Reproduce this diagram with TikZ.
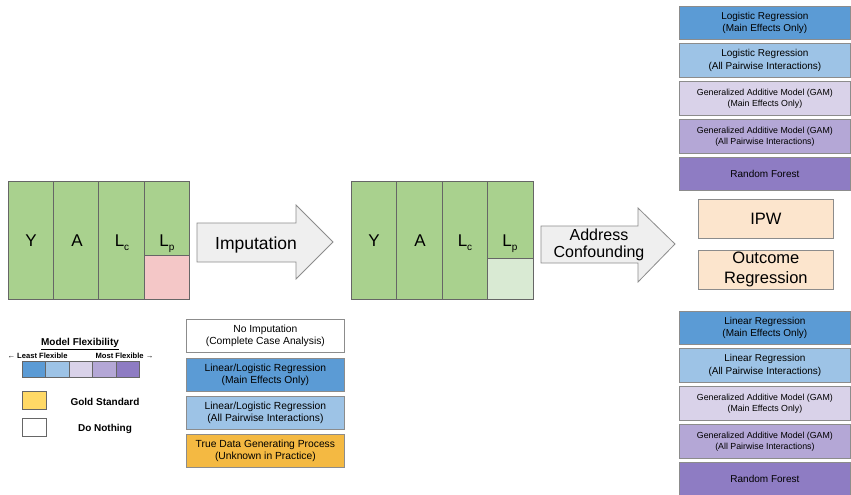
\documentclass[tikz,border=0pt]{standalone}
\usepackage{fontspec}
\setmainfont{Liberation Sans}
\definecolor{tgreen}{HTML}{A9D18E}
\definecolor{tpink}{HTML}{F4C7C7}
\definecolor{tlgreen}{HTML}{D9EAD3}
\definecolor{tline}{HTML}{666666}
\definecolor{bline}{HTML}{8C8C8C}
\definecolor{arrfill}{HTML}{EFEFEF}
\definecolor{cblue}{HTML}{5B9BD5}
\definecolor{clblue}{HTML}{9DC3E6}
\definecolor{clpurple}{HTML}{D9D2E9}
\definecolor{cmpurple}{HTML}{B4A7D6}
\definecolor{cdpurple}{HTML}{8E7CC3}
\definecolor{cgold}{HTML}{FFD966}
\definecolor{corange}{HTML}{F4B942}
\definecolor{cpeach}{HTML}{FCE5CD}
\begin{document}
\begin{tikzpicture}[x=1pt,y=-1pt,
  box/.style={draw=bline, line width=0.8pt, minimum width=171pt, minimum height=33pt,
    anchor=north west, align=center, inner sep=1pt, font=\fontsize{10}{12.5}\selectfont},
  gam/.style={box, font=\fontsize{8.8}{11}\selectfont},
  ibox/.style={box, minimum width=158pt, font=\fontsize{10.3}{12.7}\selectfont},
  ebox/.style={draw=bline, line width=0.8pt, fill=cpeach, minimum width=135pt, minimum height=39pt,
    anchor=north west, align=center, inner sep=1pt, font=\fontsize{16.5}{20}\selectfont},
  cell/.style={draw=tline, line width=1pt, fill=tgreen, anchor=north west, inner sep=0pt},
  tlabel/.style={anchor=base, font=\fontsize{17}{20}\selectfont, inner sep=0pt},
  arrowshape/.style={draw=bline, line width=0.8pt, fill=arrfill},
  strip/.style={draw=tline, line width=0.8pt, minimum width=23.4pt, minimum height=16pt, anchor=north west, inner sep=0pt},
  leg/.style={font=\fontsize{10}{12}\selectfont\bfseries, inner sep=0pt},
  legsmall/.style={font=\fontsize{7.6}{9}\selectfont\bfseries, inner sep=0pt}
]
\useasboundingbox (0,0) rectangle (851,495);
\newcommand{\Lsub}[1]{L\raisebox{-0.45ex}{\fontsize{10}{10}\selectfont #1}}

% ---------- table 1 ----------
\node[cell, minimum width=45pt, minimum height=118pt] (t1y) at (8,181) {};
\node[cell, minimum width=45pt, minimum height=118pt] (t1a) at (53,181) {};
\node[cell, minimum width=46pt, minimum height=118pt] (t1c) at (98,181) {};
\node[cell, minimum width=45pt, minimum height=74pt] (t1p) at (144,181) {};
\node[cell, fill=tpink, minimum width=45pt, minimum height=44pt] (t1m) at (144,255) {};
\node[tlabel] (l1y) at (31,246) {Y};
\node[tlabel] (l1a) at (77,246) {A};
\node[tlabel] (l1c) at (122,246) {\Lsub{c}};
\node[tlabel] (l1p) at (167,246) {\Lsub{p}};

% ---------- arrow 1 ----------
\draw[arrowshape] (197,223) -- (296,223) -- (296,205) -- (333,242) -- (296,279) -- (296,262) -- (197,262) -- cycle;
\node[anchor=base, font=\fontsize{17.5}{20}\selectfont, inner sep=0pt] (imp) at (256,249) {Imputation};

% ---------- table 2 ----------
\node[cell, minimum width=45pt, minimum height=118pt] (t2y) at (351,181) {};
\node[cell, minimum width=46pt, minimum height=118pt] (t2a) at (396,181) {};
\node[cell, minimum width=45pt, minimum height=118pt] (t2c) at (442,181) {};
\node[cell, minimum width=46pt, minimum height=77pt] (t2p) at (487,181) {};
\node[cell, fill=tlgreen, minimum width=46pt, minimum height=41pt] (t2m) at (487,258) {};
\node[tlabel] (l2y) at (374,246) {Y};
\node[tlabel] (l2a) at (420,246) {A};
\node[tlabel] (l2c) at (465,246) {\Lsub{c}};
\node[tlabel] (l2p) at (510,246) {\Lsub{p}};

% ---------- arrow 2 ----------
\draw[arrowshape] (541,226) -- (638,226) -- (638,208) -- (675,244) -- (638,282) -- (638,263) -- (541,263) -- cycle;
\node[align=center, font=\fontsize{16}{17.5}\selectfont, inner sep=0pt] (conf) at (599,245) {Address\\Confounding};

% ---------- right column: propensity models ----------
\node[box, fill=cblue, minimum height=33pt] (p1) at (679,6) {Logistic Regression\\(Main Effects Only)};
\node[box, fill=clblue, minimum height=34pt] (p2) at (679,43) {Logistic Regression\\(All Pairwise Interactions)};
\node[gam, fill=clpurple, minimum height=34pt] (p3) at (679,81) {Generalized Additive Model (GAM)\\(Main Effects Only)};
\node[gam, fill=cmpurple, minimum height=34pt] (p4) at (679,119) {Generalized Additive Model (GAM)\\(All Pairwise Interactions)};
\node[box, fill=cdpurple, minimum height=33pt] (p5) at (679,157) {Random Forest};

\node[ebox] (ipw) at (698,199) {IPW};
\node[ebox] (outr) at (698,250) {Outcome\\Regression};

% ---------- right column: outcome models ----------
\node[box, fill=cblue, minimum height=33pt] (o1) at (679,311) {Linear Regression\\(Main Effects Only)};
\node[box, fill=clblue, minimum height=34pt] (o2) at (679,348) {Linear Regression\\(All Pairwise Interactions)};
\node[gam, fill=clpurple, minimum height=34pt] (o3) at (679,386) {Generalized Additive Model (GAM)\\(Main Effects Only)};
\node[gam, fill=cmpurple, minimum height=34pt] (o4) at (679,424) {Generalized Additive Model (GAM)\\(All Pairwise Interactions)};
\node[box, fill=cdpurple, minimum height=34pt] (o5) at (679,462) {Random Forest};

% ---------- imputation methods ----------
\node[ibox, fill=white] (i1) at (186,319) {No Imputation\\(Complete Case Analysis)};
\node[ibox, fill=cblue] (i2) at (186,358) {Linear/Logistic Regression\\(Main Effects Only)};
\node[ibox, fill=clblue] (i3) at (186,396) {Linear/Logistic Regression\\(All Pairwise Interactions)};
\node[ibox, fill=corange] (i4) at (186,434) {True Data Generating Process\\(Unknown in Practice)};

% ---------- legend ----------
\node[leg] (ltitle) at (80,344) {\underline{Model Flexibility}};
\node[legsmall] (lleast) at (37.5,356) {← Least Flexible};
\node[legsmall] (lmost) at (124.5,356) {Most Flexible →};
\node[strip, fill=cblue] (s1) at (22,361) {};
\node[strip, fill=clblue] (s2) at (45.4,361) {};
\node[strip, fill=clpurple] (s3) at (68.8,361) {};
\node[strip, fill=cmpurple] (s4) at (92.2,361) {};
\node[strip, fill=cdpurple] (s5) at (115.6,361) {};
\node[strip, fill=cgold, minimum width=24pt, minimum height=18pt] (gsw) at (22,391) {};
\node[leg] (gtxt) at (105,402) {Gold Standard};
\node[strip, fill=white, minimum width=24pt, minimum height=18pt] (wsw) at (22,418) {};
\node[leg] (wtxt) at (105,429) {Do Nothing};
\end{tikzpicture}
\end{document}
